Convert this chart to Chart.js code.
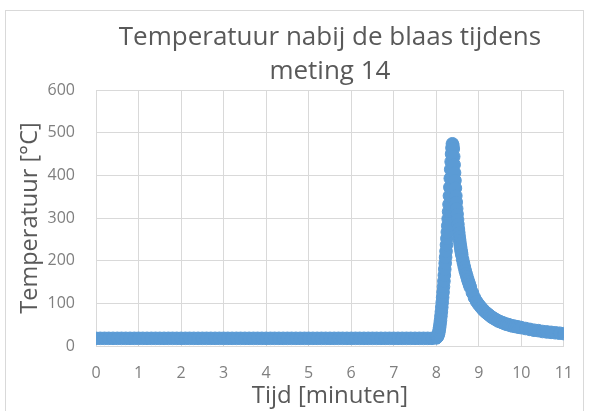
<!DOCTYPE html>
<html>
<head>
<meta charset="utf-8">
<script src="https://cdn.jsdelivr.net/npm/chart.js@4/dist/chart.umd.min.js"></script>
<style>
  html, body { margin: 0; padding: 0; background: #ffffff; }
  #wrap { width: 591px; height: 411px; }
</style>
</head>
<body>
<div id="wrap"><canvas id="c" width="591" height="411"></canvas></div>
<script>
// ---- data ----
const chartTitle = ['Temperatuur nabij de blaas tijdens', 'meting 14'];
const xAxisTitle = 'Tijd [minuten]';
const yAxisTitle = 'Temperatuur [°C]';

const timeMinutes = [
  0,0.1,0.2,0.3,0.4,0.5,0.6,0.7,0.8,0.9,
  1,1.1,1.2,1.3,1.4,1.5,1.6,1.7,1.8,1.9,
  2,2.1,2.2,2.3,2.4,2.5,2.6,2.7,2.8,2.9,
  3,3.1,3.2,3.3,3.4,3.5,3.6,3.7,3.8,3.9,
  4,4.1,4.2,4.3,4.4,4.5,4.6,4.7,4.8,4.9,
  5,5.1,5.2,5.3,5.4,5.5,5.6,5.7,5.8,5.9,
  6,6.1,6.2,6.3,6.4,6.5,6.6,6.7,6.8,6.9,
  7,7.1,7.2,7.3,7.4,7.5,7.6,7.7,7.8,7.9,
  8,8.01,8.02,8.03,8.04,8.05,8.06,8.07,8.08,8.09,
  8.1,8.11,8.12,8.13,8.14,8.15,8.16,8.17,8.18,8.19,
  8.2,8.21,8.22,8.23,8.24,8.25,8.26,8.27,8.28,8.29,
  8.3,8.31,8.32,8.33,8.34,8.35,8.36,8.37,8.38,8.39,
  8.4,8.41,8.42,8.43,8.44,8.45,8.46,8.47,8.48,8.49,
  8.5,8.51,8.52,8.53,8.54,8.55,8.56,8.57,8.58,8.59,
  8.6,8.62,8.64,8.66,8.68,8.7,8.72,8.74,8.76,8.78,
  8.8,8.85,8.9,8.95,9,9.05,9.1,9.15,9.2,9.25,
  9.3,9.35,9.4,9.45,9.5,9.55,9.6,9.65,9.7,9.75,
  9.8,9.85,9.9,9.95,10,10.1,10.2,10.3,10.4,10.5,
  10.6,10.7,10.8,10.9,11
];

const temperatureC = [
  18,18,18,18,18,18,18,18,18,18,
  18,18,18,18,18,18,18,18,18,18,
  18,18,18,18,18,18,18,18,18,18,
  18,18,18,18,18,18,18,18,18,18,
  18,18,18,18,18,18,18,18,18,18,
  18,18,18,18,18,18,18,18,18,18,
  18,18,18,18,18,18,18,18,18,18,
  18,18,18,18,18,18,18,18,18,18,
  19,20,21,23,25,28,32,38,44,52,
  60,70,80,91,102,114,126,139,152,166,
  180,194,208,222,237,252,267,282,298,315,
  332,352,372,393,414,432,450,464,474,470,
  462,444,425,406,388,370,352,337,322,309,
  296,285,274,265,256,248,240,233,226,220,
  214,203,194,185,177,170,163,156,150,144,
  138,125,113,104,97,91,85,80,76,72,
  68,65,62,59,57,55,53,51,50,48,
  47,46,45,44,43,41,39,37,36,34,
  33,32,31,30,29
];

const xTicks = [0,1,2,3,4,5,6,7,8,9,10,11];
const yTicks = [0,100,200,300,400,500,600];

// ---- chart ----
const points = timeMinutes.map((t, i) => ({ x: t, y: temperatureC[i] }));

const frame = {
  id: 'frame',
  beforeDraw(chart) {
    const ctx = chart.ctx;
    ctx.save();
    ctx.fillStyle = '#ffffff';
    ctx.fillRect(0, 0, chart.width, chart.height);
    ctx.strokeStyle = '#d9d9d9';
    ctx.lineWidth = 1;
    ctx.strokeRect(5.5, 10.5, 578, 420);
    ctx.restore();
  }
};

const FONT = '"Open Sans", Lato, "DejaVu Sans", sans-serif';

new Chart(document.getElementById('c'), {
  type: 'scatter',
  data: {
    datasets: [{
      data: points,
      backgroundColor: '#5b9bd5',
      borderColor: '#5b9bd5',
      borderWidth: 1,
      pointRadius: 6.3,
      pointHoverRadius: 6.3
    }]
  },
  options: {
    responsive: false,
    animation: false,
    events: [],
    layout: { padding: { left: 0, right: 27, top: 0, bottom: 0 } },
    plugins: {
      legend: { display: false },
      tooltip: { enabled: false },
      title: {
        display: true,
        text: chartTitle,
        fullSize: false,
        color: '#595959',
        font: { family: FONT, size: 26, weight: 'normal', lineHeight: 1.32 },
        padding: { top: 20, bottom: 1.4 }
      }
    },
    scales: {
      x: {
        type: 'linear',
        min: 0, max: 11,
        afterFit(scale) { scale.height = 65; },
        afterBuildTicks(scale) { scale.ticks = xTicks.map(v => ({ value: v })); },
        grid: { color: '#d9d9d9', drawTicks: false },
        border: { color: '#d9d9d9' },
        ticks: { color: '#7f7f7f', font: { family: FONT, size: 16 }, padding: 18 },
        title: {
          display: true, text: xAxisTitle, color: '#595959',
          font: { family: FONT, size: 24, lineHeight: 1.2 },
          padding: { top: 0, bottom: 0 }
        }
      },
      y: {
        type: 'linear',
        min: 0, max: 600,
        afterFit(scale) { scale.width = 96; },
        afterBuildTicks(scale) { scale.ticks = yTicks.map(v => ({ value: v })); },
        grid: { color: '#d9d9d9', drawTicks: false },
        border: { display: false },
        ticks: { color: '#7f7f7f', font: { family: FONT, size: 16 }, padding: 21 },
        title: {
          display: true, text: yAxisTitle, color: '#595959',
          font: { family: FONT, size: 23.5, lineHeight: 1.2 },
          padding: { top: 16, bottom: 0 }
        }
      }
    }
  },
  plugins: [frame]
});
</script>
</body>
</html>
